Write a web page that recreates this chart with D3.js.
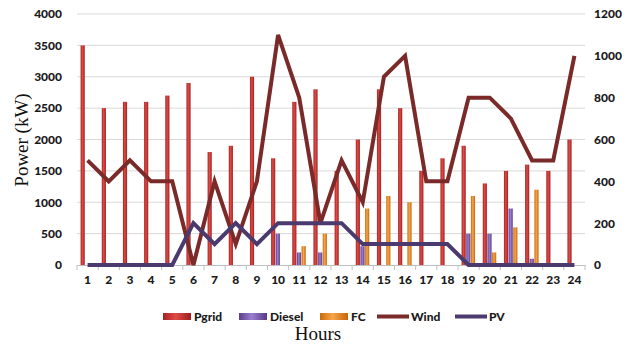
<!DOCTYPE html>
<html>
<head>
<meta charset="utf-8">
<script src="https://cdn.jsdelivr.net/npm/d3@7"></script>
<style>
body{margin:0;background:#fff;}
</style>
</head>
<body>
<div class="box"></div>
<script>
const hours=d3.range(1,25).map(String);
const pgrid=[3500,2500,2600,2600,2700,2900,1800,1900,3000,1700,2600,2800,1500,2000,2800,2500,1500,1700,1900,1300,1500,1600,1500,2000];
const diesel=[0,0,0,0,0,0,0,0,0,500,200,200,0,300,0,0,0,0,500,500,900,100,0,0];
const fc=[0,0,0,0,0,0,0,0,0,0,300,500,0,900,1100,1000,0,0,1100,200,600,1200,0,0];
const wind=[500,400,500,400,400,0,400,100,400,1100,800,200,500,300,900,1000,400,400,800,800,700,500,500,1000];
const pv=[0,0,0,0,0,200,100,200,100,200,200,200,200,100,100,100,100,100,0,0,0,0,0,0];
const leftTicks=[0,500,1000,1500,2000,2500,3000,3500,4000];
const rightTicks=[0,200,400,600,800,1000,1200];

const W=630,H=345;
const margin={top:14,right:45,bottom:80,left:77};
const graphW=W-margin.left-margin.right;
const graphH=H-margin.top-margin.bottom;

const svg=d3.select('.box').append('svg').attr('width',W).attr('height',H).style('background','white');
const defs=svg.append('defs');
const grad=(id,c1,c2,c3)=>{
  const lg=defs.append('linearGradient').attr('id',id).attr('x1','0').attr('x2','1').attr('y1','0').attr('y2','0');
  lg.append('stop').attr('offset','0%').attr('stop-color',c1);
  lg.append('stop').attr('offset','45%').attr('stop-color',c2);
  lg.append('stop').attr('offset','100%').attr('stop-color',c3);
};
grad('gPgrid','#a32424','#e04a45','#9e2020');
grad('gDiesel','#5b3e8c','#9a7fd0','#58398a');
grad('gFC','#c96a0c','#f8a54a','#c4650a');

const g=svg.append('g').attr('transform',`translate(${margin.left},${margin.top})`);

const x=d3.scaleBand().domain(hours).range([0,graphW]).paddingInner(0.34).paddingOuter(0.17);
const xc=d3.scaleBand().domain(hours).range([0,graphW]);
const series=['Pgrid','Diesel','FC'];
const xs=d3.scaleBand().domain(series).range([0,x.bandwidth()]);
const y=d3.scaleLinear().domain([0,4000]).range([graphH,0]);
const y2=d3.scaleLinear().domain([0,1200]).range([graphH,0]);

// grid
g.append('g').selectAll('line').data(leftTicks.slice(1)).enter().append('line')
  .attr('x1',0).attr('x2',graphW).attr('y1',d=>y(d)).attr('y2',d=>y(d))
  .attr('stroke','#d9d9d9').attr('stroke-width',1);

const styleTxt=sel=>sel.attr('font-family','Lato').attr('font-weight',900).attr('font-size',12).attr('fill','#1a1a1a');

// axes
const gX=g.append('g').attr('transform',`translate(0,${graphH})`)
  .call(d3.axisBottom(xc).tickSize(0).tickPadding(10));
gX.select('.domain').attr('stroke','#bfbfbf');
styleTxt(gX.selectAll('text'));
gX.selectAll('.tk').data(d3.range(25)).enter().append('line').attr('class','tk')
  .attr('x1',i=>i*xc.step()).attr('x2',i=>i*xc.step()).attr('y1',0).attr('y2',5).attr('stroke','#bfbfbf');

const gY=g.append('g').call(d3.axisLeft(y).tickValues(leftTicks).tickFormat(d3.format('d')).tickSize(0).tickPadding(15));
gY.select('.domain').remove();
styleTxt(gY.selectAll('text'));

const gY2=g.append('g').attr('transform',`translate(${graphW},0)`)
  .call(d3.axisRight(y2).tickValues(rightTicks).tickFormat(d3.format('d')).tickSize(0).tickPadding(9));
gY2.select('.domain').remove();
styleTxt(gY2.selectAll('text'));

// bars
const table=hours.map((h,i)=>({h,Pgrid:pgrid[i],Diesel:diesel[i],FC:fc[i]}));
const fills={Pgrid:'url(#gPgrid)',Diesel:'url(#gDiesel)',FC:'url(#gFC)'};
const grp=g.append('g').selectAll('g').data(table).enter().append('g')
  .attr('transform',d=>`translate(${x(d.h)},0)`);
grp.selectAll('rect').data(d=>series.map(s=>({s,v:d[s]}))).enter().append('rect')
  .attr('x',d=>xs(d.s)).attr('width',xs.bandwidth()-0.5)
  .attr('y',d=>y(d.v)).attr('height',d=>graphH-y(d.v))
  .attr('fill',d=>fills[d.s]);

// lines
const line=d3.line().x((d,i)=>xc(hours[i])+xc.bandwidth()/2).y(d=>y2(d));
g.append('path').datum(wind).attr('d',line).attr('fill','none').attr('stroke','#7b2a2a').attr('stroke-width',4).attr('stroke-linejoin','miter');
g.append('path').datum(pv).attr('d',line).attr('fill','none').attr('stroke','#4a3a6e').attr('stroke-width',4).attr('stroke-linejoin','miter');

// titles
svg.append('text').attr('transform','translate(28,140) rotate(-90)').attr('text-anchor','middle')
  .attr('font-family','Liberation Serif').attr('font-size',19).attr('fill','#111').text('Power (kW)');
svg.append('text').attr('x',318).attr('y',340).attr('text-anchor','middle')
  .attr('font-family','Liberation Serif').attr('font-size',19).attr('fill','#111').text('Hours');

// legend
const legend=[
  {name:'Pgrid',type:'bar',fill:'url(#gPgrid)',x:163},
  {name:'Diesel',type:'bar',fill:'url(#gDiesel)',x:239},
  {name:'FC',type:'bar',fill:'url(#gFC)',x:320},
  {name:'Wind',type:'line',fill:'#7b2a2a',x:377},
  {name:'PV',type:'line',fill:'#4a3a6e',x:455}
];
const lg=svg.append('g').attr('transform','translate(0,316)');
lg.selectAll('g').data(legend).enter().append('g').each(function(d){
  const e=d3.select(this);
  if(d.type==='bar') e.append('rect').attr('x',d.x).attr('y',-3).attr('width',28).attr('height',7).attr('fill',d.fill);
  else e.append('rect').attr('x',d.x).attr('y',-1.5).attr('width',32).attr('height',4).attr('fill',d.fill);
  styleTxt(e.append('text').attr('x',d.x+(d.type==='bar'?31:34)).attr('y',5).attr('font-size',11.5)).text(d.name);
});
</script>
</body>
</html>
